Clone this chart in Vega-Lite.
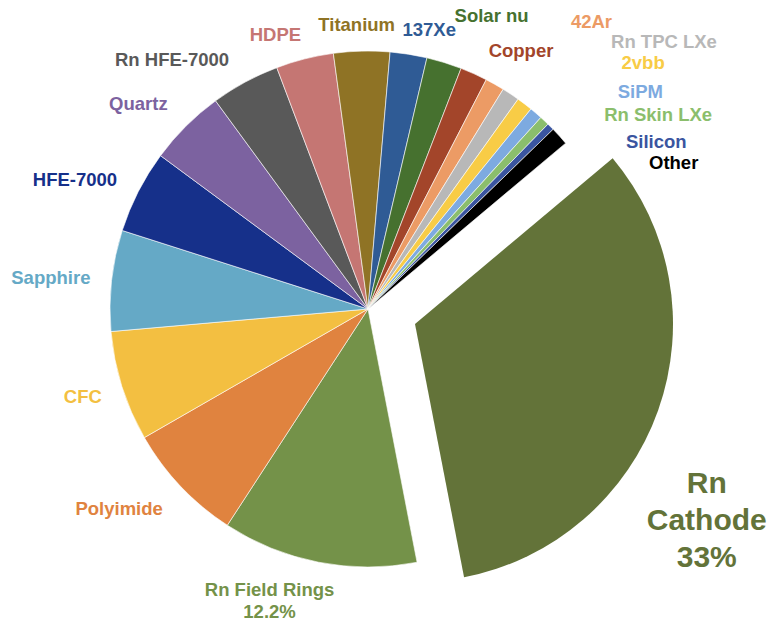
{
  "$schema": "https://vega.github.io/schema/vega-lite/v6.json",
  "width": 736,
  "height": 618,
  "autosize": {"type": "none"},
  "padding": {"left": 0, "top": 0, "right": 33, "bottom": 5},
  "background": "white",
  "config": {"view": {"stroke": null}},
  "data": {
    "values": [
      {"source": "Rn Cathode", "percent": 33.0, "label": "Rn\nCathode\n33%"},
      {"source": "Rn Field Rings", "percent": 12.2, "label": "Rn Field Rings\n12.2%"},
      {"source": "Polyimide", "percent": 7.5, "label": "Polyimide"},
      {"source": "CFC", "percent": 6.9, "label": "CFC"},
      {"source": "Sapphire", "percent": 6.3, "label": "Sapphire"},
      {"source": "HFE-7000", "percent": 5.2, "label": "HFE-7000"},
      {"source": "Quartz", "percent": 4.8, "label": "Quartz"},
      {"source": "Rn HFE-7000", "percent": 4.3, "label": "Rn HFE-7000"},
      {"source": "HDPE", "percent": 3.6, "label": "HDPE"},
      {"source": "Titanium", "percent": 3.5, "label": "Titanium"},
      {"source": "137Xe", "percent": 2.3, "label": "137Xe"},
      {"source": "Solar nu", "percent": 2.2, "label": "Solar nu"},
      {"source": "Copper", "percent": 1.7, "label": "Copper"},
      {"source": "42Ar", "percent": 1.2, "label": "42Ar"},
      {"source": "Rn TPC LXe", "percent": 1.1, "label": "Rn TPC LXe"},
      {"source": "2vbb", "percent": 1.0, "label": "2vbb"},
      {"source": "SiPM", "percent": 0.8, "label": "SiPM"},
      {"source": "Rn Skin LXe", "percent": 0.6, "label": "Rn Skin LXe"},
      {"source": "Silicon", "percent": 0.45, "label": "Silicon"},
      {"source": "Other", "percent": 1.15, "label": "Other"}
    ]
  },
  "transform": [{"window": [{"op": "row_number", "as": "rank"}]}],
  "encoding": {
    "theta": {"field": "percent", "type": "quantitative", "stack": true, "scale": {"range": [0.87266, 7.15585]}},
    "order": {"field": "rank", "type": "quantitative"},
    "color": {
      "field": "source",
      "type": "nominal",
      "legend": null,
      "scale": {
        "domain": ["Rn Cathode", "Rn Field Rings", "Polyimide", "CFC", "Sapphire", "HFE-7000", "Quartz", "Rn HFE-7000", "HDPE", "Titanium", "137Xe", "Solar nu", "Copper", "42Ar", "Rn TPC LXe", "2vbb", "SiPM", "Rn Skin LXe", "Silicon", "Other"],
        "range": ["#637339", "#749249", "#E0833F", "#F3BF41", "#65A9C6", "#16308A", "#7C62A0", "#595959", "#C57673", "#8F7325", "#2F5B95", "#46712F", "#A3452A", "#EC9B65", "#B8B8B8", "#F8CC46", "#7DAAE0", "#8BBE6C", "#3A55A0", "#000000"]
      }
    }
  },
  "layer": [
    {
      "mark": {"type": "arc", "outerRadius": 258, "stroke": "#ffffff", "strokeWidth": 0.6},
      "encoding": {"opacity": {"condition": {"test": "datum.source === 'Rn Cathode'", "value": 0}, "value": 1}}
    },
    {
      "mark": {"type": "arc", "outerRadius": 258, "xOffset": 47, "yOffset": 15},
      "encoding": {"opacity": {"condition": {"test": "datum.source === 'Rn Cathode'", "value": 1}, "value": 0}}
    },
    {
      "mark": {
        "type": "text",
        "radius": 300,
        "font": "Liberation Sans",
        "fontWeight": "bold",
        "lineBreak": "\n",
        "fontSize": {"expr": "datum.source === 'Rn Cathode' ? 30 : 18.5"},
        "lineHeight": {"expr": "datum.source === 'Rn Cathode' ? 37 : 22"},
        "dx": {"expr": "{'Rn Cathode':56,'Rn Field Rings':-41,'Polyimide':-31,'CFC':1,'Sapphire':-19,'HFE-7000':-26,'Quartz':-18,'Rn HFE-7000':-53,'HDPE':-19,'Titanium':-4,'137Xe':14,'Solar nu':35,'Copper':30,'42Ar':76,'Rn TPC LXe':130,'2vbb':93,'SiPM':77,'Rn Skin LXe':85,'Silicon':76,'Other':83}[datum.source]"},
        "dy": {"expr": "{'Rn Cathode':75,'Rn Field Rings':-13,'Polyimide':-6,'CFC':-2,'Sapphire':2,'HFE-7000':8,'Quartz':8,'Rn HFE-7000':15,'HDPE':17,'Titanium':16,'137Xe':17,'Solar nu':-6,'Copper':16,'42Ar':-26,'Rn TPC LXe':-17,'2vbb':-8,'SiPM':11,'Rn Skin LXe':25,'Silicon':45,'Other':55}[datum.source]"}
      },
      "encoding": {"text": {"field": "label"}}
    }
  ]
}
